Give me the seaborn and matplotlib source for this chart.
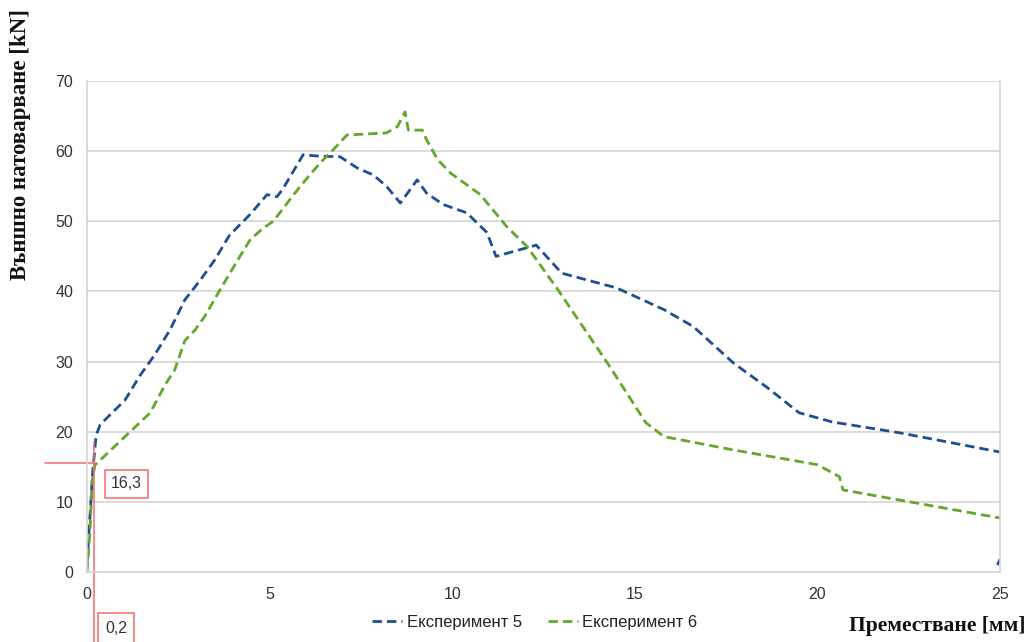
import numpy as np
import pandas as pd
import matplotlib
matplotlib.use("Agg")
import matplotlib.pyplot as plt
import seaborn as sns
from matplotlib.lines import Line2D

# ---- data ----
blue_x = [0, 0.16, 0.25, 0.36, 0.63, 1.04, 1.45, 1.86, 2.27, 2.68, 3.1, 3.5, 3.9, 4.47,
          4.93, 5.2, 5.35, 5.92, 6.3, 6.93, 7.4, 7.84, 8.2, 8.58, 9.04, 9.3, 9.75, 10.4,
          10.95, 11.2, 12.3, 13.0, 14.5, 15.8, 16.6, 17.7, 18.6, 19.5, 20.4, 22.3, 25.0]
blue_y = [1.3, 14.5, 19.5, 21.0, 22.4, 24.5, 28.0, 31.0, 34.5, 38.8, 41.6, 44.5, 48.0, 51.0,
          53.8, 53.5, 54.5, 59.5, 59.3, 59.2, 57.6, 56.6, 55.0, 52.6, 55.9, 54.0, 52.4, 51.2,
          48.4, 45.0, 46.6, 42.6, 40.5, 37.4, 35.0, 29.8, 26.4, 22.7, 21.4, 19.8, 17.1]
blue_tail_x = [24.93, 25.0]
blue_tail_y = [1.0, 1.8]

green_x = [0, 0.08, 0.14, 0.22, 0.27, 1.73, 2.14, 2.4, 2.68, 2.96, 3.23, 3.64, 4.05, 4.47,
           4.82, 5.1, 5.84, 6.38, 6.74, 7.12, 8.2, 8.5, 8.71, 8.8, 9.18, 9.3, 9.6, 9.95,
           10.77, 11.04, 11.5, 12.05, 12.9, 14.25, 15.3, 15.8, 17.7, 20.0, 20.6, 20.7, 25.0]
green_y = [0, 5.6, 13.0, 15.3, 15.5, 22.7, 26.7, 28.8, 33.0, 34.5, 36.5, 40.2, 43.8, 47.4,
           49.0, 50.0, 55.0, 58.3, 60.2, 62.3, 62.6, 63.5, 65.6, 63.0, 63.0, 61.6, 58.8, 56.9,
           53.8, 52.1, 49.2, 46.4, 40.2, 29.8, 21.3, 19.3, 17.4, 15.3, 13.6, 11.7, 7.7]

series_names = ["Експеримент 5", "Експеримент 6"]
x_ticks = [0, 5, 10, 15, 20, 25]
y_ticks = [0, 10, 20, 30, 40, 50, 60, 70]
ylabel = "Външно натоварване [kN]"
xlabel = "Преместване [мм]"
ann_y_text = "16,3"
ann_x_text = "0,2"

# ---- style ----
sns.set_style("white")
plt.rcParams['font.family'] = ['Liberation Sans', 'DejaVu Sans']

BLUE = "#1d4f91"
GREEN = "#62a82c"
RED = "#f26b6b"
GRID = "#d4d4d4"
TXT = "#333333"

fig = plt.figure(figsize=(10.33, 6.42), dpi=100)
ax = fig.add_axes([87/1033, 70/642, 913/1033, 491/642])

df = pd.concat([
    pd.DataFrame({"x": blue_x, "y": blue_y, "s": series_names[0]}),
    pd.DataFrame({"x": green_x, "y": green_y, "s": series_names[1]}),
])
dash = (3.4, 1.8)
sns.lineplot(data=df, x="x", y="y", hue="s", palette=[BLUE, GREEN], sort=False,
             estimator=None, ax=ax, linewidth=2.0, legend=False)
for ln in ax.get_lines():
    ln.set_dashes(dash)
sns.lineplot(x=blue_tail_x, y=blue_tail_y, color=BLUE, sort=False, ax=ax,
             linewidth=2.0, legend=False)
ax.get_lines()[-1].set_dashes(dash)

ax.set_xlim(0, 25)
ax.set_ylim(0, 70)
ax.set_xticks(x_ticks)
ax.set_yticks(y_ticks)
ax.set_xticklabels([str(v) for v in x_ticks])
ax.set_yticklabels([str(v) for v in y_ticks])
ax.yaxis.grid(True, color=GRID, linewidth=1.2)
ax.xaxis.grid(False)
ax.set_axisbelow(True)
for side in ["left", "bottom", "right"]:
    ax.spines[side].set_color(GRID)
    ax.spines[side].set_linewidth(1.2)
ax.spines["top"].set_visible(False)
ax.tick_params(axis="both", which="major", length=5, width=1, color=GRID,
               labelsize=11.5, labelcolor=TXT, direction="out")
ax.tick_params(axis="y", pad=5)
ax.tick_params(axis="x", pad=6)
ax.set_xlabel("")
ax.set_ylabel("")

# ---- red annotations ----
ax.plot([-1.15, 0.2], [15.55, 15.55], color=RED, lw=1.1, clip_on=False)
ax.plot([0.2, 0.2], [18.6, -10.0], color=RED, lw=1.1, clip_on=False)
ax.text(1.08, 12.6, ann_y_text, ha="center", va="center", fontsize=11.5, color=TXT,
        bbox=dict(boxstyle="square,pad=0.4", fc="white", ec=RED, lw=1.1), clip_on=False)
ax.text(0.8, -8.0, ann_x_text, ha="center", va="center", fontsize=11.5, color=TXT,
        bbox=dict(boxstyle="square,pad=0.45", fc="white", ec=RED, lw=1.1), clip_on=False)

# ---- labels ----
fig.text(21/1033, 1 - 145/642, ylabel, rotation=90, ha="center", va="center",
         fontsize=16.5, fontweight="bold", family=["Liberation Serif", "DejaVu Serif"], color="#111111")
fig.text(937/1033, 1 - 626/642, xlabel, ha="center", va="center",
         fontsize=15.5, fontweight="bold", family=["Liberation Serif", "DejaVu Serif"], color="#111111")

# ---- legend ----
handles = [Line2D([0], [0], color=BLUE, lw=2.0, dashes=dash),
           Line2D([0], [0], color=GREEN, lw=2.0, dashes=dash)]
fig.legend(handles, series_names, loc="center", bbox_to_anchor=(535/1033, 1 - 622/642),
           ncol=2, frameon=False, fontsize=12, handlelength=1.8, handletextpad=0.3,
           columnspacing=1.5, labelcolor="#222222")

fig.savefig("out.png", dpi=100)
